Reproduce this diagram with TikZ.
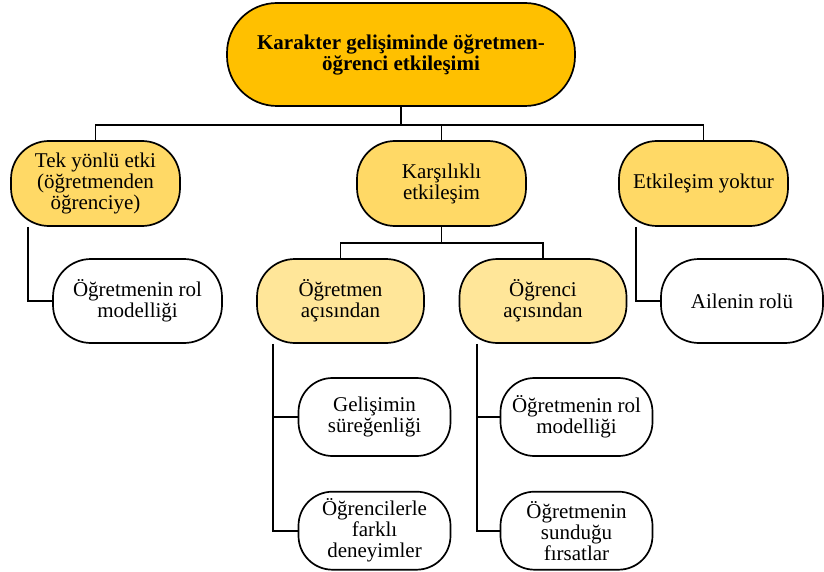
\documentclass[tikz,border=0pt]{standalone}
\usepackage{fontspec}
\setmainfont{Liberation Serif}
\usetikzlibrary{positioning}

\definecolor{topgold}{HTML}{FFC000}
\definecolor{midgold}{HTML}{FFD966}
\definecolor{lowgold}{HTML}{FFE699}

\tikzset{
  box/.style={draw=black, line width=1.7pt, align=center, inner sep=0pt,
    font=\fontsize{21}{21}\selectfont},
  rootbox/.style={box, fill=topgold, minimum width=348pt, minimum height=103pt,
    rounded corners=50pt, font=\fontsize{21}{21}\selectfont\bfseries},
  mainbox/.style={box, fill=midgold, minimum width=169pt, minimum height=85pt, rounded corners=38pt},
  sidebox/.style={box, fill=lowgold, minimum width=167pt, minimum height=84pt, rounded corners=38pt},
  childbox/.style={box, fill=white, minimum width=167pt, minimum height=84pt, rounded corners=38pt},
  leafbox/.style={box, fill=white, minimum width=152pt, minimum height=78pt, rounded corners=34pt},
  link/.style={line width=1.7pt}
}

\begin{document}
\begin{tikzpicture}[x=1pt, y=-1pt]
    \useasboundingbox (0,0) rectangle (824,572);

    % root
    \node (top) [rootbox] at (401,54.5) {Karakter gelişiminde öğretmen-\\öğrenci etkileşimi};

    % first level
    \node (tek) [mainbox] at (95.5,183.5) {Tek yönlü etki\\(öğretmenden\\öğrenciye)};
    \node (kars) [mainbox] at (441.5,183.5) {Karşılıklı\\etkileşim};
    \node (yok) [mainbox] at (703.5,183.5) {Etkileşim yoktur};

    % second level
    \node (rolA) [childbox, minimum width=169pt] at (137.5,301) {Öğretmenin rol\\modelliği};
    \node (ogrt) [sidebox] at (340.5,301) {Öğretmen\\açısından};
    \node (ogrc) [sidebox] at (543,301) {Öğrenci\\açısından};
    \node (aile) [childbox, minimum width=162pt] at (742,301) {Ailenin rolü};

    % third level
    \node (gel) [leafbox] at (374.5,417) {Gelişimin\\süreğenliği};
    \node (farkli) [leafbox, below=34pt of gel] {Öğrencilerle\\farklı\\deneyimler};
    \node (rolB) [leafbox] at (576.5,417) {Öğretmenin rol\\modelliği};
    \node (firsat) [leafbox, below=34pt of rolB] {Öğretmenin\\sunduğu\\fırsatlar};

    % connectors
    \coordinate (hub) at (401,125);
    \draw [link] (top.south) -- (hub);
    \draw [link] (tek.north) |- (hub);
    \draw [link] (yok.north) |- (hub);
    \draw [link] (kars.north) -- (kars.north |- hub);

    \coordinate (hub2) at (441.5,243);
    \draw [link] (kars.south) -- (hub2);
    \draw [link] (ogrt.north) |- (hub2);
    \draw [link] (ogrc.north) |- (hub2);

    \draw [link] ([xshift=-67.5pt]tek.south) |- (rolA.west);
    \draw [link] ([xshift=-67.5pt]yok.south) |- (aile.west);

    \coordinate (legA) at ([xshift=-67.5pt]ogrt.south);
    \draw [link] (legA) |- (farkli.west);
    \draw [link] (legA |- gel.west) -- (gel.west);

    \coordinate (legB) at ([xshift=-66pt]ogrc.south);
    \draw [link] (legB) |- (firsat.west);
    \draw [link] (legB |- rolB.west) -- (rolB.west);
\end{tikzpicture}
\end{document}
